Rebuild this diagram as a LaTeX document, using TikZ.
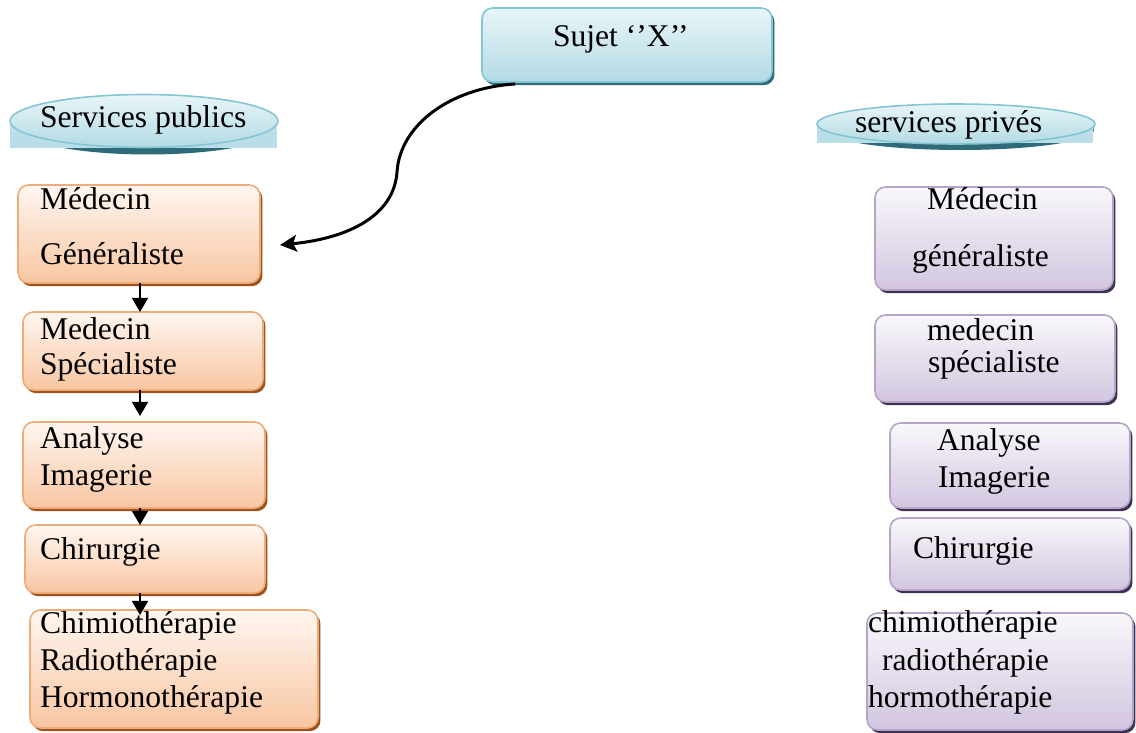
\documentclass[tikz,border=0pt]{standalone}
\usepackage{fontspec}
\setmainfont{Liberation Serif}
\usetikzlibrary{arrows.meta,shadows,calc,shapes.geometric}
\definecolor{otop}{HTML}{FFF6F0}
\definecolor{obot}{HTML}{F8C6A2}
\definecolor{oborder}{HTML}{EEAC78}
\definecolor{oshadow}{HTML}{9E531C}
\definecolor{ptop}{HTML}{F9F7FB}
\definecolor{pbot}{HTML}{D2C6DF}
\definecolor{pborder}{HTML}{B4A5C8}
\definecolor{pshadow}{HTML}{3E3050}
\definecolor{btop}{HTML}{E8F5F8}
\definecolor{bbot}{HTML}{B3DAE4}
\definecolor{bborder}{HTML}{84C5D3}
\definecolor{bshadow}{HTML}{2E6A78}
\definecolor{brect}{HTML}{B9DEE8}
\tikzset{
  base/.style={rectangle, rounded corners=6pt, line width=0.9pt, inner sep=0pt, outer sep=0pt},
  obox/.style={base, draw=oborder, top color=otop, bottom color=obot,
    general shadow={fill=oshadow, shadow xshift=1.4pt, shadow yshift=-1.8pt}},
  pbox/.style={base, draw=pborder, top color=ptop, bottom color=pbot,
    general shadow={fill=pshadow, shadow xshift=1.4pt, shadow yshift=-1.8pt}},
  bbox/.style={base, draw=bborder, top color=btop, bottom color=bbot,
    general shadow={fill=bshadow, shadow xshift=1.4pt, shadow yshift=-1.8pt}},
  ell/.style={ellipse, draw=bborder, line width=0.9pt, inner sep=0pt, outer sep=0pt,
    top color=btop, bottom color=bbot},
  txt/.style={anchor=base west, inner sep=0pt, outer sep=0pt, font=\fontsize{18}{22}\selectfont},
  varr/.style={-{Triangle[length=8pt,width=9pt]}, line width=1.3pt},
  carr/.style={-{Stealth[length=9.5pt,width=9.5pt,inset=2pt]}, line width=1.7pt},
}
\begin{document}
\begin{tikzpicture}[x=0.02cm,y=-0.02cm]
\useasboundingbox (0,0) rectangle (1136,733);
% top subject
\node[bbox, minimum width=5.8cm, minimum height=1.48cm] (S) at (627,45) {};
\node[txt] (tS) at (553,47) {Sujet ‘’X’’};
% ellipses
\fill[bshadow] (148,128) ellipse [x radius=2.58cm, y radius=0.53cm];
\fill[brect] (10,121) rectangle (277,148);
\node[ell, minimum width=5.36cm, minimum height=1.06cm] (E1) at (144,121) {};
\node[txt] (tE1) at (40,128) {Services publics};
\fill[bshadow] (960,130) ellipse [x radius=2.68cm, y radius=0.4cm];
\fill[brect] (817,124) rectangle (1093,143);
\node[ell, minimum width=5.56cm, minimum height=0.8cm] (E2) at (956,124) {};
\node[txt] (tE2) at (855,133) {services privés};
% left column
\node[obox, minimum width=4.84cm, minimum height=1.96cm] (L1) at (139,234) {};
\node[txt] (tL1a) at (40,210) {Médecin};
\node[txt] (tL1b) at (40,265) {Généraliste};
\node[obox, minimum width=4.8cm, minimum height=1.56cm] (L2) at (143,351) {};
\node[txt] (tL2a) at (40,339) {Medecin};
\node[txt] (tL2b) at (40,374) {Spécialiste};
\node[obox, minimum width=4.84cm, minimum height=1.72cm] (L3) at (144,465) {};
\node[txt] (tL3a) at (40,448) {Analyse};
\node[txt] (tL3b) at (40,485) {Imagerie};
\node[obox, minimum width=4.8cm, minimum height=1.36cm] (L4) at (145,559) {};
\node[txt] (tL4a) at (40,559) {Chirurgie};
\node[obox, minimum width=5.76cm, minimum height=2.36cm] (L5) at (174,669) {};
\node[txt] (tL5a) at (40,633) {Chimiothérapie};
\node[txt] (tL5b) at (40,670) {Radiothérapie};
\node[txt] (tL5c) at (40,707) {Hormonothérapie};
% right column
\node[pbox, minimum width=4.76cm, minimum height=2.06cm] (R1) at (994,238.5) {};
\node[txt] (tR1a) at (927,210) {Médecin};
\node[txt] (tR1b) at (912,267) {généraliste};
\node[pbox, minimum width=4.8cm, minimum height=1.74cm] (R2) at (995,358.5) {};
\node[txt] (tR2a) at (927,340) {medecin};
\node[txt] (tR2b) at (928,372) {spécialiste};
\node[pbox, minimum width=4.8cm, minimum height=1.7cm] (R3) at (1010,465.5) {};
\node[txt] (tR3a) at (937,450) {Analyse};
\node[txt] (tR3b) at (938,487) {Imagerie};
\node[pbox, minimum width=4.8cm, minimum height=1.44cm] (R4) at (1010,554) {};
\node[txt] (tR4a) at (913,558) {Chirurgie};
\node[pbox, minimum width=5.32cm, minimum height=2.34cm] (R5) at (1000,671.5) {};
\node[txt] (tR5a) at (868,632) {chimiothérapie};
\node[txt] (tR5b) at (882,670) {radiothérapie};
\node[txt] (tR5c) at (868,707) {hormothérapie};
% arrows
\coordinate (ax) at (140,0);
\draw[varr] (L1.south -| ax) -- (L2.north -| ax);
\draw[varr] (L2.south -| ax) -- ($(L3.north -| ax)+(0,-6)$);
\draw[varr] (L3.south -| ax) -- (L4.north -| ax);
\draw[varr] (L4.south -| ax) -- ($(L5.north -| ax)+(0,5)$);
\coordinate (cs) at ($(S.south west)+(33,2)$);
\coordinate (ce) at ($(L1.east)+(20,11)$);
\draw[carr] (cs) .. controls (450,88) and (400,125) .. (397,172)
            .. controls (394,215) and (350,238) .. (ce);
\end{tikzpicture}
\end{document}
